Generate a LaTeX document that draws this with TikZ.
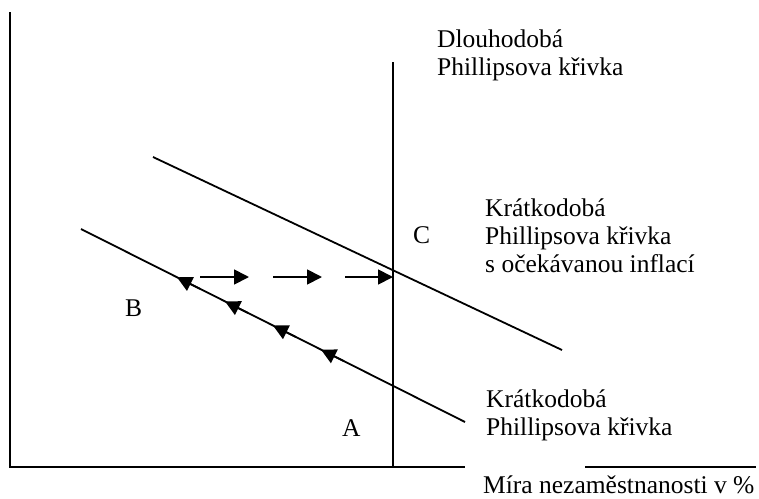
\documentclass[tikz,border=0pt]{standalone}
\usepackage{fontspec}
\setmainfont{Liberation Serif}
\usetikzlibrary{arrows.meta,calc}
\begin{document}
\begin{tikzpicture}[x=1pt,y=-1pt,
  curve/.style={line width=1.8pt},
  axis/.style={line width=2.2pt},
  lbl/.style={anchor=base west,inner sep=0pt,font=\fontsize{25.5}{28}\selectfont},
  tip/.style={line width=1.8pt,-{Triangle[length=15pt,width=15pt]}}]
\useasboundingbox (0,0) rectangle (759,498);
% axes
\coordinate (ytop) at (10,12);
\coordinate (orig) at (10,467);
\coordinate (xa) at (465,467);
\coordinate (xb) at (585,467);
\coordinate (xend) at (756,467);
\draw[axis] (ytop) -- (orig) -- (xa);
\draw[axis] (xb) -- (xend);
% long-run Phillips curve
\coordinate (LRt) at (393,62);
\coordinate (LRb) at (393,468);
\draw[curve] (LRt) -- (LRb);
% upper short-run curve
\coordinate (U1) at (153,157);
\coordinate (U2) at (562,350);
\draw[curve] (U1) -- (U2);
% lower short-run curve
\coordinate (L1) at (81,229);
\coordinate (L2) at (465,422);
\draw[curve] (L1) -- (L2);
% arrows along lower curve
\foreach \t in {0.25,0.375,0.5,0.625}{
  \draw[tip] ($(L1)!\t+0.06!(L2)$) -- ($(L1)!\t!(L2)$);
}
% horizontal arrows
\coordinate (h1s) at (200,277); \coordinate (h1e) at (249,277);
\coordinate (h2s) at (273,277); \coordinate (h2e) at (322,277);
\coordinate (h3s) at (345,277); \coordinate (h3e) at (393,277);
\draw[tip] (h1s) -- (h1e);
\draw[tip] (h2s) -- (h2e);
\draw[tip] (h3s) -- (h3e);
% labels
\node[lbl] (dl1) at (437,47) {Dlouhodobá};
\node[lbl] (dl2) at (437,75) {Phillipsova křivka};
\node[lbl] (ku1) at (485,216) {Krátkodobá};
\node[lbl] (ku2) at (485,244) {Phillipsova křivka};
\node[lbl] (ku3) at (485,272) {s očekávanou inflací};
\node[lbl] (kl1) at (486,407) {Krátkodobá};
\node[lbl] (kl2) at (486,435) {Phillipsova křivka};
\node[lbl] (C) at (413,243) {C};
\node[lbl] (B) at (125,316) {B};
\node[lbl] (A) at (342,436) {A};
\node[lbl] (xl) at (483,493) {Míra nezaměstnanosti v \%};
\end{tikzpicture}
\end{document}
